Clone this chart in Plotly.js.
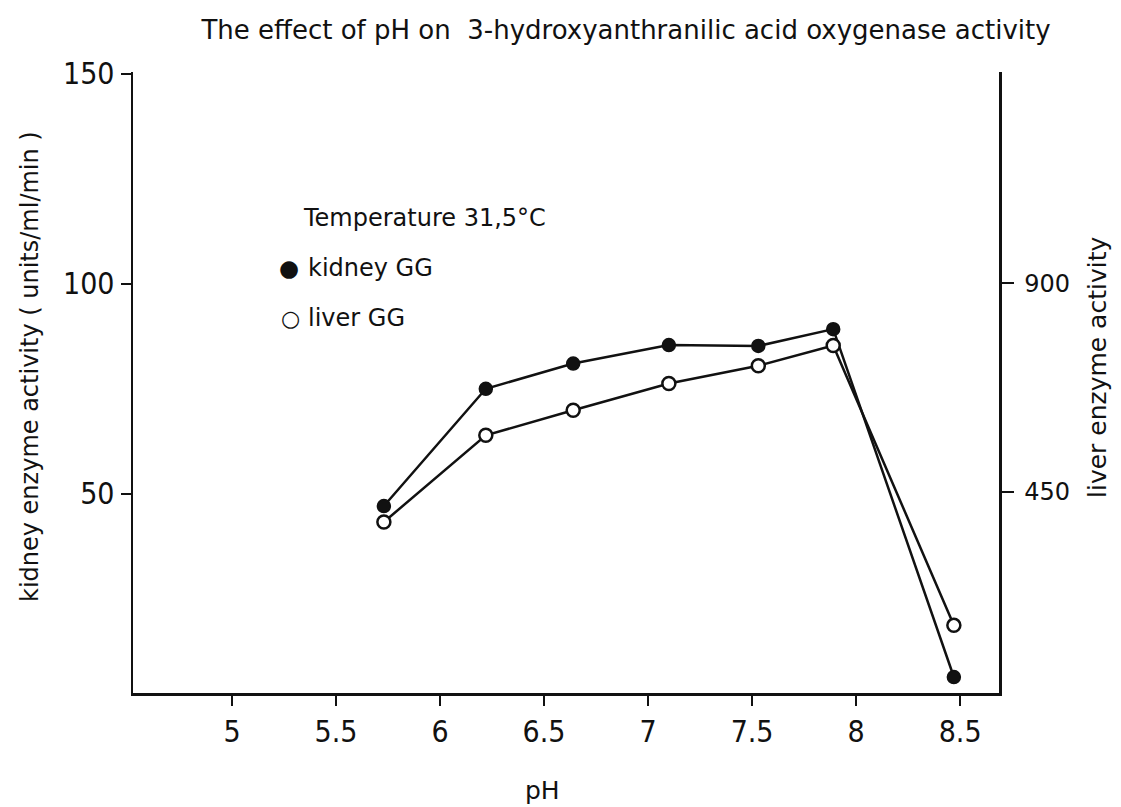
<!DOCTYPE html>
<html>
<head>
<meta charset="utf-8">
<script src="https://cdn.plot.ly/plotly-3.0.1.min.js"></script>
<style>html,body{margin:0;padding:0;background:#fff;}#chart{width:1121px;height:807px;}</style>
</head>
<body>
<div id="chart"></div>
<script>
// pH values of the measurements
const pH = [5.73, 6.22, 6.64, 7.10, 7.53, 7.89, 8.47];
// kidney GG activity (units/ml/min), left axis
const kidneyActivity = [47.1, 75.0, 81.0, 85.4, 85.2, 89.2, 6.4];
// liver GG activity, right axis
const liverActivity = [385, 572, 626, 684, 722, 766, 162];

const xTickVals = [5, 5.5, 6, 6.5, 7, 7.5, 8, 8.5];
const xTickText = ['5', '5.5', '6', '6.5', '7', '7.5', '8', '8.5'];
const yTickVals = [50, 100, 150];
const y2TickVals = [450, 900];

const TEXT = "'DejaVu Sans', 'Open Sans', sans-serif";
const NARROW = "'Liberation Sans Narrow', 'DejaVu Sans Condensed', 'Arial Narrow', sans-serif";

const traces = [
  {
    x: pH, y: kidneyActivity, name: 'kidney GG', type: 'scatter', mode: 'lines+markers',
    line: {color: '#111', width: 2.5},
    marker: {symbol: 'circle', size: 13, color: '#111', line: {color: '#111', width: 1.5}},
    showlegend: false
  },
  {
    x: pH, y: liverActivity, name: 'liver GG', type: 'scatter', mode: 'lines+markers', yaxis: 'y2',
    line: {color: '#111', width: 2.5},
    marker: {symbol: 'circle', size: 13, color: '#fff', line: {color: '#111', width: 2.5}},
    showlegend: false
  }
];

const W = 1121, H = 807, L = 133, R = 122, T = 72, B = 114;
const pw = W - L - R, ph = H - T - B;
function px(x) { return (x - L) / pw; }
function py(y) { return (H - B - y) / ph; }

const layout = {
  width: W, height: H,
  margin: {l: L, r: R, t: T, b: B, pad: 0},
  paper_bgcolor: '#fff', plot_bgcolor: '#fff',
  showlegend: false,
  title: {
    text: 'The effect of pH on  3-hydroxyanthranilic acid oxygenase activity',
    font: {family: TEXT, size: 26, color: '#111'},
    x: px(626), xanchor: 'center', xref: 'paper',
    y: 1 - 30 / H, yanchor: 'middle'
  },
  xaxis: {
    range: [4.524, 8.687], showgrid: false, zeroline: false,
    showline: true, linecolor: '#111', linewidth: 2.5,
    tickmode: 'array', tickvals: xTickVals, ticktext: xTickText,
    ticks: 'outside', ticklen: 10, tickwidth: 2, tickcolor: '#111',
    ticklabelstandoff: 0,
    tickfont: {family: NARROW, size: 30, color: '#111'}
  },
  yaxis: {
    range: [2.6, 150.4], showgrid: false, zeroline: false,
    showline: true, linecolor: '#111', linewidth: 2.5,
    tickmode: 'array', tickvals: yTickVals, ticktext: yTickVals.map(String),
    ticks: 'outside', ticklen: 10, tickwidth: 2, tickcolor: '#111',
    ticklabelstandoff: 0,
    tickfont: {family: NARROW, size: 30, color: '#111'}
  },
  yaxis2: {
    overlaying: 'y', side: 'right',
    range: [16, 1356], showgrid: false, zeroline: false,
    showline: true, linecolor: '#111', linewidth: 2.5,
    tickmode: 'array', tickvals: y2TickVals, ticktext: y2TickVals.map(String),
    ticks: 'outside', ticklen: 12, tickwidth: 2, tickcolor: '#111',
    ticklabelstandoff: 6,
    tickfont: {family: TEXT, size: 24, color: '#111'}
  },
  annotations: [
    {text: 'pH', xref: 'paper', yref: 'paper', x: px(542), y: py(790),
     xanchor: 'center', yanchor: 'middle', showarrow: false,
     font: {family: TEXT, size: 25, color: '#111'}},
    {text: 'kidney enzyme activity ( units/ml/min )', xref: 'paper', yref: 'paper',
     x: px(30), y: py(367), textangle: -90, xanchor: 'center', yanchor: 'middle', showarrow: false,
     font: {family: TEXT, size: 24, color: '#111'}},
    {text: 'liver enzyme activity', xref: 'paper', yref: 'paper',
     x: px(1097), y: py(368), textangle: -90, xanchor: 'center', yanchor: 'middle', showarrow: false,
     font: {family: TEXT, size: 25, color: '#111'}},
    {text: 'Temperature 31,5°C', xref: 'paper', yref: 'paper', x: px(301), y: py(218),
     xanchor: 'left', yanchor: 'middle', showarrow: false,
     font: {family: TEXT, size: 24, color: '#111'}},
    {text: '●', xref: 'paper', yref: 'paper', x: px(289), y: py(268),
     xanchor: 'center', yanchor: 'middle', showarrow: false,
     font: {family: TEXT, size: 23, color: '#111'}},
    {text: 'kidney GG', xref: 'paper', yref: 'paper', x: px(306), y: py(268),
     xanchor: 'left', yanchor: 'middle', showarrow: false,
     font: {family: TEXT, size: 24, color: '#111'}},
    {text: '○', xref: 'paper', yref: 'paper', x: px(290), y: py(318),
     xanchor: 'center', yanchor: 'middle', showarrow: false,
     font: {family: TEXT, size: 22, color: '#111'}},
    {text: 'liver GG', xref: 'paper', yref: 'paper', x: px(306), y: py(318),
     xanchor: 'left', yanchor: 'middle', showarrow: false,
     font: {family: TEXT, size: 24, color: '#111'}}
  ]
};

Plotly.newPlot('chart', traces, layout, {displayModeBar: false, staticPlot: true});
</script>
</body>
</html>
